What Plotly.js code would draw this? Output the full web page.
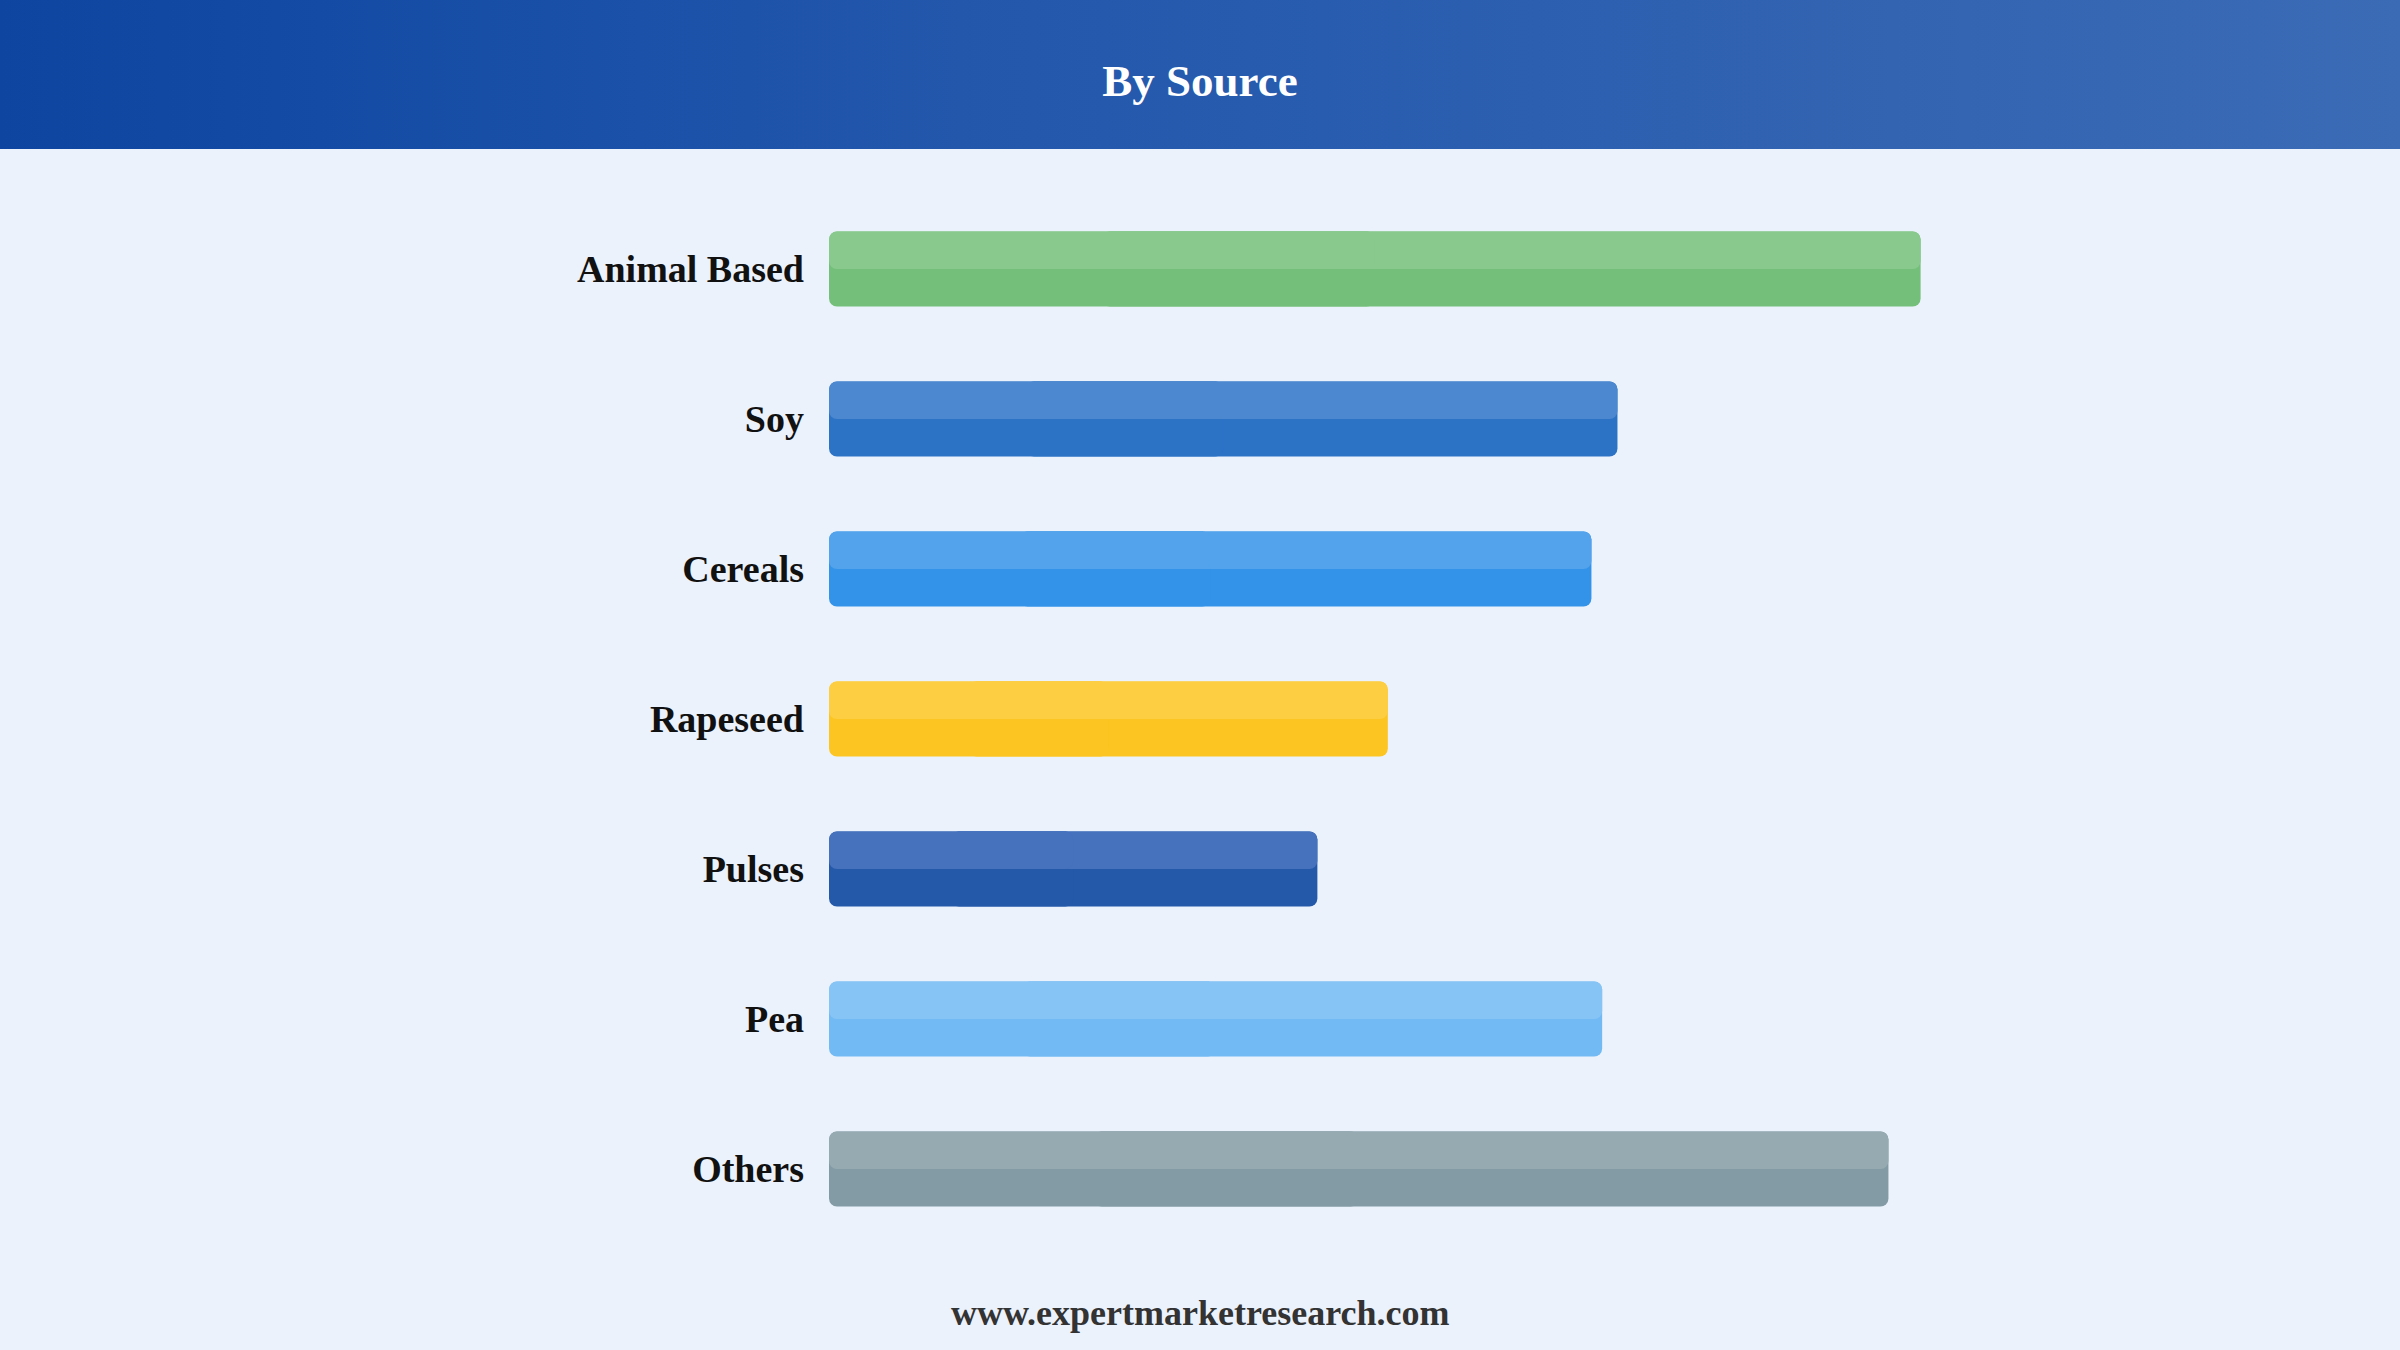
<!DOCTYPE html>
<html>
<head>
<meta charset="utf-8">
<script src="https://cdn.plot.ly/plotly-3.0.1.min.js"></script>
<style>
  html, body { margin: 0; padding: 0; }
  body {
    width: 2400px; height: 1350px; overflow: hidden;
    background: #EBF2FC;
    position: relative;
  }
  /* header band behind the chart */
  #band {
    position: absolute; left: 0; top: 0; width: 2400px; height: 149px;
    background: linear-gradient(to right, #0D45A0 0%, #2257AC 40%, #3B6BB5 100%);
  }
  #chart { position: absolute; left: 0; top: 0; width: 2400px; height: 1350px; }
</style>
</head>
<body>
<div id="band"></div>
<div id="chart"></div>
<script>
// categories, top to bottom
let sources = ["Animal Based", "Soy", "Cereals", "Rapeseed", "Pulses", "Pea", "Others"];
// bar lengths (relative)
let shares = [71.3, 51.5, 49.8, 36.5, 31.9, 50.5, 69.2];
// bar colours: lower half and the lighter upper half
let barColors = ["#74C07A", "#2C73C6", "#3393E8", "#FDC521", "#2458A9", "#72BAF4", "#839BA5"];
let topColors = ["#89C98E", "#4C88CF", "#52A3EC", "#FDCE42", "#4571BD", "#87C4F6", "#96AAB2"];

let serif = "Liberation Serif, Times New Roman, serif";

// plotly rounds only the far end of a bar. A piece drawn backwards from the
// middle to 0 gets its left end rounded; a piece from a quarter to the value
// gets its right end rounded. Both are opaque, so the overlap does not show.
let mids = shares.map(v => v / 2);
let quarters = shares.map(v => v / 4);

function leftPiece(color, width) {
  return {
    type: "bar", orientation: "h", y: sources,
    base: mids, x: mids.map(m => -m),
    width: width, offset: -0.25,
    marker: { color: color, cornerradius: 8, line: { width: 0 } },
    hoverinfo: "none"
  };
}
function rightPiece(color, width) {
  return {
    type: "bar", orientation: "h", y: sources,
    base: quarters, x: shares.map((v, i) => v - quarters[i]),
    width: width, offset: -0.25,
    marker: { color: color, cornerradius: 8, line: { width: 0 } },
    hoverinfo: "none"
  };
}

let data = [
  rightPiece(barColors, 0.5),
  leftPiece(barColors, 0.5),
  rightPiece(topColors, 0.25),
  leftPiece(topColors, 0.25)
];

let layout = {
  width: 2400,
  height: 1350,
  paper_bgcolor: "rgba(0,0,0,0)",
  plot_bgcolor: "rgba(0,0,0,0)",
  barmode: "overlay",
  showlegend: false,
  margin: { l: 829, r: 40, t: 194, b: 106 },
  title: {
    text: "By Source",
    font: { family: serif, size: 45, color: "#FFFFFF", weight: "bold" },
    xref: "container",
    x: 0.5,
    xanchor: "center",
    yref: "container",
    y: 1 - 80 / 1350,
    yanchor: "middle"
  },
  xaxis: {
    range: [0, 100],
    visible: false,
    showgrid: false,
    zeroline: false,
    fixedrange: true
  },
  yaxis: {
    type: "category",
    categoryorder: "array",
    categoryarray: sources,
    range: [6.5, -0.5],
    showgrid: false,
    zeroline: false,
    showline: false,
    ticks: "",
    ticklabelstandoff: 24,
    tickfont: { family: serif, size: 38, color: "#111111", weight: "bold" },
    fixedrange: true
  },
  annotations: [{
    text: "www.expertmarketresearch.com",
    xref: "paper",
    yref: "paper",
    x: (1200 - 829) / 1531,
    y: -69 / 1050,
    xanchor: "center",
    yanchor: "middle",
    showarrow: false,
    font: { family: serif, size: 36, color: "#333333", weight: "bold" }
  }]
};

Plotly.newPlot("chart", data, layout, { displayModeBar: false, staticPlot: true });
</script>
</body>
</html>
